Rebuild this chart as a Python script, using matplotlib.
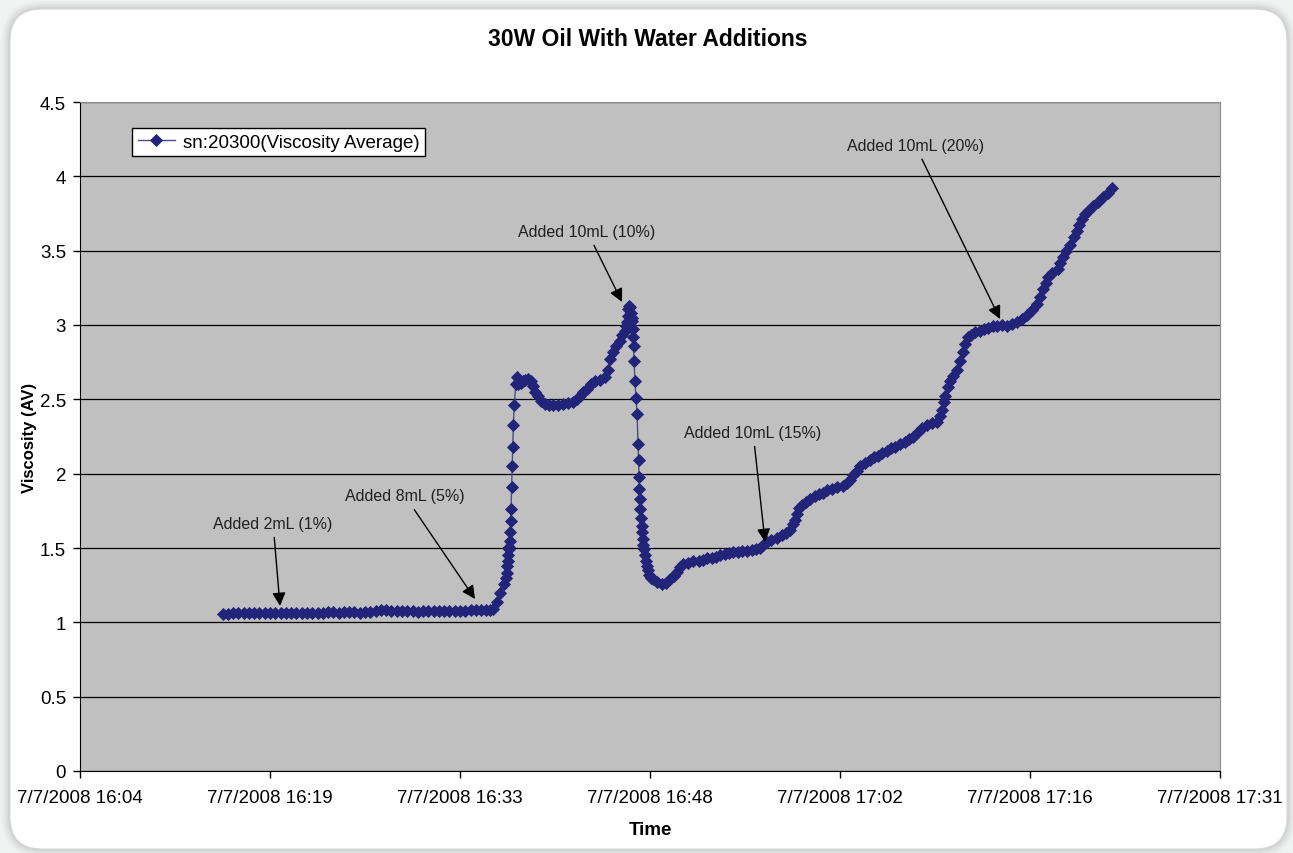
import matplotlib
matplotlib.use('Agg')
import matplotlib.pyplot as plt
import matplotlib.dates as mdates
from matplotlib.patches import FancyBboxPatch
from matplotlib.transforms import IdentityTransform
from matplotlib.ticker import FixedLocator, FuncFormatter
import pandas as pd

plt.rcParams['font.family'] = ['Liberation Sans', 'DejaVu Sans']

# minutes after 7/7/2008 16:00 and viscosity readings
minutes = [
    15.6, 16.0, 16.4, 16.8, 17.2, 17.6, 18.0, 18.4, 18.8, 19.2, 19.6, 20.0, 20.4, 20.8,
    21.2, 21.6, 22.0, 22.4, 22.8, 23.2, 23.6, 24.0, 24.4, 24.8, 25.2, 25.6, 26.0, 26.4,
    26.8, 27.2, 27.6, 28.0, 28.4, 28.8, 29.2, 29.6, 30.0, 30.4, 30.8, 31.2, 31.6, 32.0,
    32.4, 32.8, 33.2, 33.6, 34.0, 34.4, 34.8, 35.2, 35.6, 35.9, 36.1, 36.4, 36.63, 36.9,
    37.1, 37.16, 37.2, 37.24, 37.27, 37.30, 37.33, 37.36, 37.40, 37.44, 37.47, 37.51,
    37.56, 37.60, 37.64, 37.72, 37.82, 37.90, 37.96, 38.02, 38.1, 38.25, 38.4, 38.55,
    38.75, 38.95, 39.13, 39.3, 39.5, 39.75, 40.04, 40.35, 40.65, 41.0, 41.41, 41.8,
    42.17, 42.45, 42.7, 42.95, 43.23, 43.5, 43.83, 44.2, 44.59, 44.82, 45.0, 45.2,
    45.45, 45.73, 45.9, 46.11, 46.2, 46.26, 46.30, 46.33, 46.40, 46.49, 46.55, 46.60,
    46.64, 46.68, 46.71, 46.75, 46.79, 46.86, 46.94, 47.02, 47.09, 47.13, 47.17, 47.20,
    47.24, 47.28, 47.32, 47.36, 47.40, 47.45, 47.50, 47.55, 47.62, 47.70, 47.77, 47.85,
    47.95, 48.1, 48.23, 48.5, 48.91, 49.2, 49.52, 49.8, 50.05, 50.3, 50.5, 50.9, 51.26,
    51.7, 52.0, 52.32, 52.7, 53.0, 53.31, 53.7, 54.0, 54.29, 54.7, 55.0, 55.35, 55.7,
    56.0, 56.34, 56.6, 56.87, 57.2, 57.63, 58.0, 58.3, 58.61, 58.85, 59.0, 59.14, 59.3,
    59.52, 59.8, 60.13, 60.5, 60.81, 61.1, 61.42, 61.8, 62.2, 62.63, 62.9, 63.16, 63.4,
    63.7, 63.92, 64.3, 64.68, 65.0, 65.3, 65.6, 65.96, 66.3, 66.6, 66.95, 67.3, 67.6,
    67.93, 68.3, 68.6, 69.0, 69.4, 69.75, 69.95, 70.13, 70.25, 70.36, 70.55, 70.74,
    71.0, 71.27, 71.5, 71.72, 71.9, 72.1, 72.3, 72.6, 73.01, 73.3, 73.65, 74.0, 74.3,
    74.7, 75.06, 75.45, 75.82, 76.2, 76.57, 76.95, 77.33, 77.55, 77.79, 78.0, 78.17,
    78.5, 78.92, 79.1, 79.3, 79.55, 79.83, 80.1, 80.36, 80.55, 80.74, 80.95, 81.2,
    81.6, 81.96, 82.3, 82.7, 83.02,
]
viscosity = [
    1.055, 1.055, 1.06, 1.06, 1.06, 1.06, 1.065, 1.06, 1.065, 1.065, 1.06, 1.065, 1.065, 1.06,
    1.065, 1.06, 1.06, 1.06, 1.06, 1.065, 1.07, 1.07, 1.065, 1.07, 1.07, 1.07, 1.065, 1.07,
    1.07, 1.075, 1.08, 1.08, 1.075, 1.075, 1.075, 1.075, 1.075, 1.07, 1.075, 1.075, 1.075, 1.075,
    1.075, 1.075, 1.075, 1.075, 1.075, 1.08, 1.08, 1.08, 1.08, 1.085, 1.09, 1.14, 1.20, 1.26,
    1.30, 1.33, 1.38, 1.41, 1.45, 1.49, 1.51, 1.55, 1.61, 1.68, 1.76, 1.91,
    2.05, 2.18, 2.33, 2.46, 2.60, 2.65, 2.61, 2.60, 2.62, 2.61, 2.62, 2.63,
    2.64, 2.62, 2.59, 2.55, 2.52, 2.49, 2.47, 2.46, 2.46, 2.46, 2.47, 2.475,
    2.48, 2.50, 2.52, 2.55, 2.57, 2.60, 2.62, 2.63, 2.65, 2.70, 2.77, 2.82,
    2.86, 2.89, 2.93, 2.96, 2.99, 3.02, 3.06, 3.11, 3.13, 3.12, 3.08, 3.05,
    3.03, 2.97, 2.92, 2.86, 2.76, 2.62, 2.51, 2.40, 2.20, 2.09, 1.98, 1.90,
    1.83, 1.76, 1.70, 1.65, 1.61, 1.56, 1.52, 1.49, 1.45, 1.41, 1.38, 1.35,
    1.32, 1.30, 1.29, 1.27, 1.26, 1.265, 1.29, 1.31, 1.34, 1.37, 1.39, 1.40, 1.41,
    1.41, 1.42, 1.43, 1.435, 1.44, 1.45, 1.46, 1.465, 1.47, 1.475, 1.48, 1.48, 1.485,
    1.49, 1.50, 1.52, 1.54, 1.555, 1.57, 1.585, 1.60, 1.62, 1.66, 1.69, 1.73, 1.77,
    1.79, 1.81, 1.83, 1.85, 1.86, 1.87, 1.89, 1.90, 1.91, 1.92, 1.94, 1.96, 1.99,
    2.02, 2.05, 2.07, 2.09, 2.11, 2.12, 2.14, 2.15, 2.17, 2.18, 2.20, 2.21, 2.23,
    2.25, 2.28, 2.31, 2.33, 2.34, 2.35, 2.39, 2.43, 2.48, 2.52, 2.58, 2.62,
    2.66, 2.70, 2.76, 2.82, 2.87, 2.92, 2.93, 2.95, 2.96, 2.97, 2.98, 2.99, 2.99,
    3.00, 2.995, 3.01, 3.02, 3.04, 3.07, 3.10, 3.14, 3.19, 3.24, 3.28, 3.32,
    3.35, 3.38, 3.42, 3.46, 3.50, 3.54, 3.59, 3.63, 3.67, 3.71, 3.75, 3.77,
    3.80, 3.83, 3.86, 3.89, 3.92,
]

# annotation texts
notes = ["Added 2mL (1%)", "Added 8mL (5%)", "Added 10mL (10%)",
         "Added 10mL (15%)", "Added 10mL (20%)"]

W, H = 1293, 854
start = pd.Timestamp('2008-07-07 16:00')


def tnum(m):
    return mdates.date2num(start + pd.Timedelta(minutes=m))


times = [start + pd.Timedelta(minutes=m) for m in minutes]

fig = plt.figure(figsize=(W / 100, H / 100), dpi=100)
fig.patch.set_facecolor('#f1f2f2')

# soft shadow + white rounded frame (behind the axes)
for i, a in enumerate([0.05, 0.06, 0.08, 0.11]):
    g = 8 - 2 * i
    fig.patches.append(FancyBboxPatch((10 - g, 4 - g), 1277 + 2 * g, 840 + 2 * g,
                                      boxstyle='round,pad=0,rounding_size=%d' % (32 + g),
                                      transform=IdentityTransform(), facecolor='#808080',
                                      edgecolor='none', alpha=a, zorder=-10))
fig.patches.append(FancyBboxPatch((10, 4), 1277, 840,
                                  boxstyle='round,pad=0,rounding_size=32',
                                  transform=IdentityTransform(), facecolor='white',
                                  edgecolor='#d8d8d8', linewidth=0.8, zorder=-9))

ax = fig.add_axes([80 / W, 1 - 772 / H, 1140 / W, 669 / H])
ax.set_zorder(1)
ax.set_facecolor('#c0c0c0')

ax.plot(times, viscosity, color='#4a4a90', lw=1.0, marker='D', markersize=6.5,
        markerfacecolor='#22247a', markeredgecolor='#22247a', markeredgewidth=0.6,
        label='sn:20300(Viscosity Average)', zorder=3)

ax.set_ylim(0, 4.5)
ax.set_yticks([i * 0.5 for i in range(10)])
ax.yaxis.set_major_formatter(FuncFormatter(lambda v, p: '%g' % v))
ax.grid(axis='y', color='black', lw=0.9)
ax.set_axisbelow(True)

xt = [tnum(4.8 + 14.4 * k) for k in range(7)]
ax.set_xlim(xt[0], xt[-1])
ax.xaxis.set_major_locator(FixedLocator(xt))


def fmt(v, pos):
    d = mdates.num2date(v + 1e-7)
    return f"{d.month}/{d.day}/{d.year} {d:%H:%M}"


ax.xaxis.set_major_formatter(FuncFormatter(fmt))
ax.tick_params(axis='x', direction='out', length=5, width=1, pad=8, labelsize=13.5)
ax.tick_params(axis='y', direction='out', length=5, width=1, pad=5, labelsize=13.5)

for s in ['top', 'right']:
    ax.spines[s].set_color('#8c8c8c')
for s in ['left', 'bottom']:
    ax.spines[s].set_color('black')

ax.set_xlabel('Time', fontsize=13.5, fontweight='bold', labelpad=11)
ax.set_ylabel('Viscosity (AV)', fontsize=12, fontweight='bold', labelpad=2)
fig.text(0.501, 1 - 40 / H, '30W Oil With Water Additions', ha='center', va='center',
         fontsize=16.5, fontweight='bold')

leg = ax.legend(loc='upper left', bbox_to_anchor=(0.0456, 0.961), borderaxespad=0,
                fontsize=13.5, fancybox=False, framealpha=1, edgecolor='black',
                handlelength=2.0, borderpad=0.3, handletextpad=0.4)
leg.get_frame().set_linewidth(1)

# arrow tips (minutes, value) and text centres (minutes, value)
tip_m = [19.96, 34.74, 45.88, 56.72, 74.53]
tip_v = [1.11, 1.157, 3.155, 1.54, 3.04]
txt_m = [19.43, 29.43, 43.23, 55.81, 68.09]
txt_v = [1.668, 1.85, 3.63, 2.28, 4.21]
for lab, tm, tv, xm, xv in zip(notes, tip_m, tip_v, txt_m, txt_v):
    ax.annotate(lab, xy=(tnum(tm), tv), xytext=(tnum(xm), xv), ha='center', va='center',
                fontsize=11.5, color='#202020',
                arrowprops=dict(arrowstyle='-|>', color='black', lw=1, mutation_scale=20,
                                shrinkA=3, shrinkB=0), zorder=4)

fig.savefig('out.png', dpi=100, facecolor=fig.get_facecolor())
